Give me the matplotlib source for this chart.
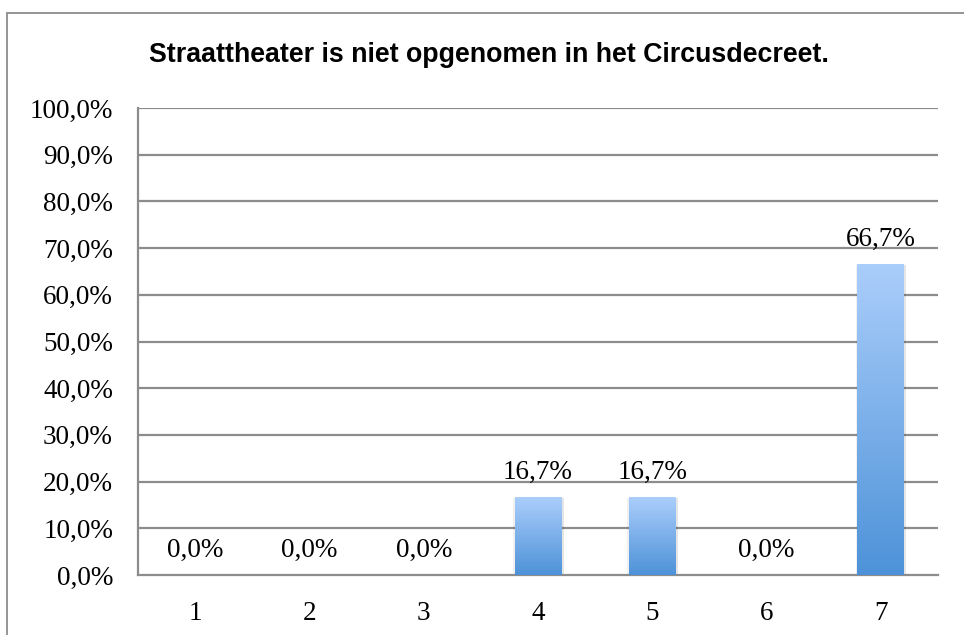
import numpy as np
import matplotlib
matplotlib.use("Agg")
import matplotlib.pyplot as plt
from matplotlib.colors import LinearSegmentedColormap
from matplotlib.patches import Rectangle
import matplotlib.patheffects as pe

categories = ["1", "2", "3", "4", "5", "6", "7"]
values = [0.0, 0.0, 0.0, 16.7, 16.7, 0.0, 66.7]
yticks = [0, 10, 20, 30, 40, 50, 60, 70, 80, 90, 100]
title = "Straattheater is niet opgenomen in het Circusdecreet."

W, H, DPI = 964, 635, 100
fig = plt.figure(figsize=(W / DPI, H / DPI), dpi=DPI)
fig.patch.set_facecolor("white")

# outer chart border (left/top visible, others run off the image)
fig.patches.append(Rectangle((7 / W, -0.2), 1.3, 1.2 - 13 / H,
                             transform=fig.transFigure, fill=False,
                             edgecolor="#8c8c8c", linewidth=1.3, zorder=0))

ax = fig.add_axes([138 / W, 1 - 575 / H, 800 / W, (575 - 108) / H])
ax.set_xlim(-0.5, len(categories) - 0.5)
ax.set_ylim(0, 100)

serif = "Liberation Serif"
fs = 19.5
grid_color = "#8c8c8c"

for y in yticks[1:]:
    ax.axhline(y, color=grid_color, linewidth=1.6, zorder=1)
for s in ["top", "right"]:
    ax.spines[s].set_visible(False)
for s in ["left", "bottom"]:
    ax.spines[s].set_color(grid_color)
    ax.spines[s].set_linewidth(1.6)

x = np.arange(len(categories))
bars = ax.bar(x, values, width=0.41, color="none", edgecolor="none", zorder=3)

cmap = LinearSegmentedColormap.from_list("g", ["#4d92d8", "#abcefb"])
grad = np.linspace(0, 1, 256).reshape(-1, 1)
for b, v in zip(bars, values):
    if v <= 0:
        continue
    x0, w = b.get_x(), b.get_width()
    sh = Rectangle((x0, 0), w, v, facecolor="white", edgecolor="none", zorder=2.5)
    sh.set_path_effects([pe.SimplePatchShadow(offset=(1.5, -1.0), shadow_rgbFace="#000000", alpha=0.10),
                         pe.SimplePatchShadow(offset=(-1.0, -1.0), shadow_rgbFace="#000000", alpha=0.06),
                         pe.Normal()])
    ax.add_patch(sh)
    im = ax.imshow(grad, extent=[x0, x0 + w, 0, v], origin="lower", aspect="auto",
                   cmap=cmap, zorder=3, interpolation="bilinear")
    im.set_clip_path(b)

for xi, v in zip(x, values):
    ax.annotate(f"{v:.1f}%".replace(".", ","), (xi, v), xytext=(0, 13),
                textcoords="offset points", ha="center", va="baseline",
                fontsize=fs, family=serif, color="black", zorder=4)

ax.set_xticks(x)
ax.set_xticklabels(categories, fontsize=fs, family=serif)
ax.set_yticks(yticks)
ax.set_yticklabels([f"{t:.1f}%".replace(".", ",") for t in yticks], fontsize=fs, family=serif)
ax.tick_params(axis="both", length=0, colors="black")
ax.tick_params(axis="y", pad=18)
ax.tick_params(axis="x", pad=19)

fig.text(489 / W, 1 - 55 / H, title, ha="center", va="center",
         fontsize=19.3, fontweight="bold", family="Liberation Sans", color="black")

fig.savefig("out.png", dpi=DPI)
